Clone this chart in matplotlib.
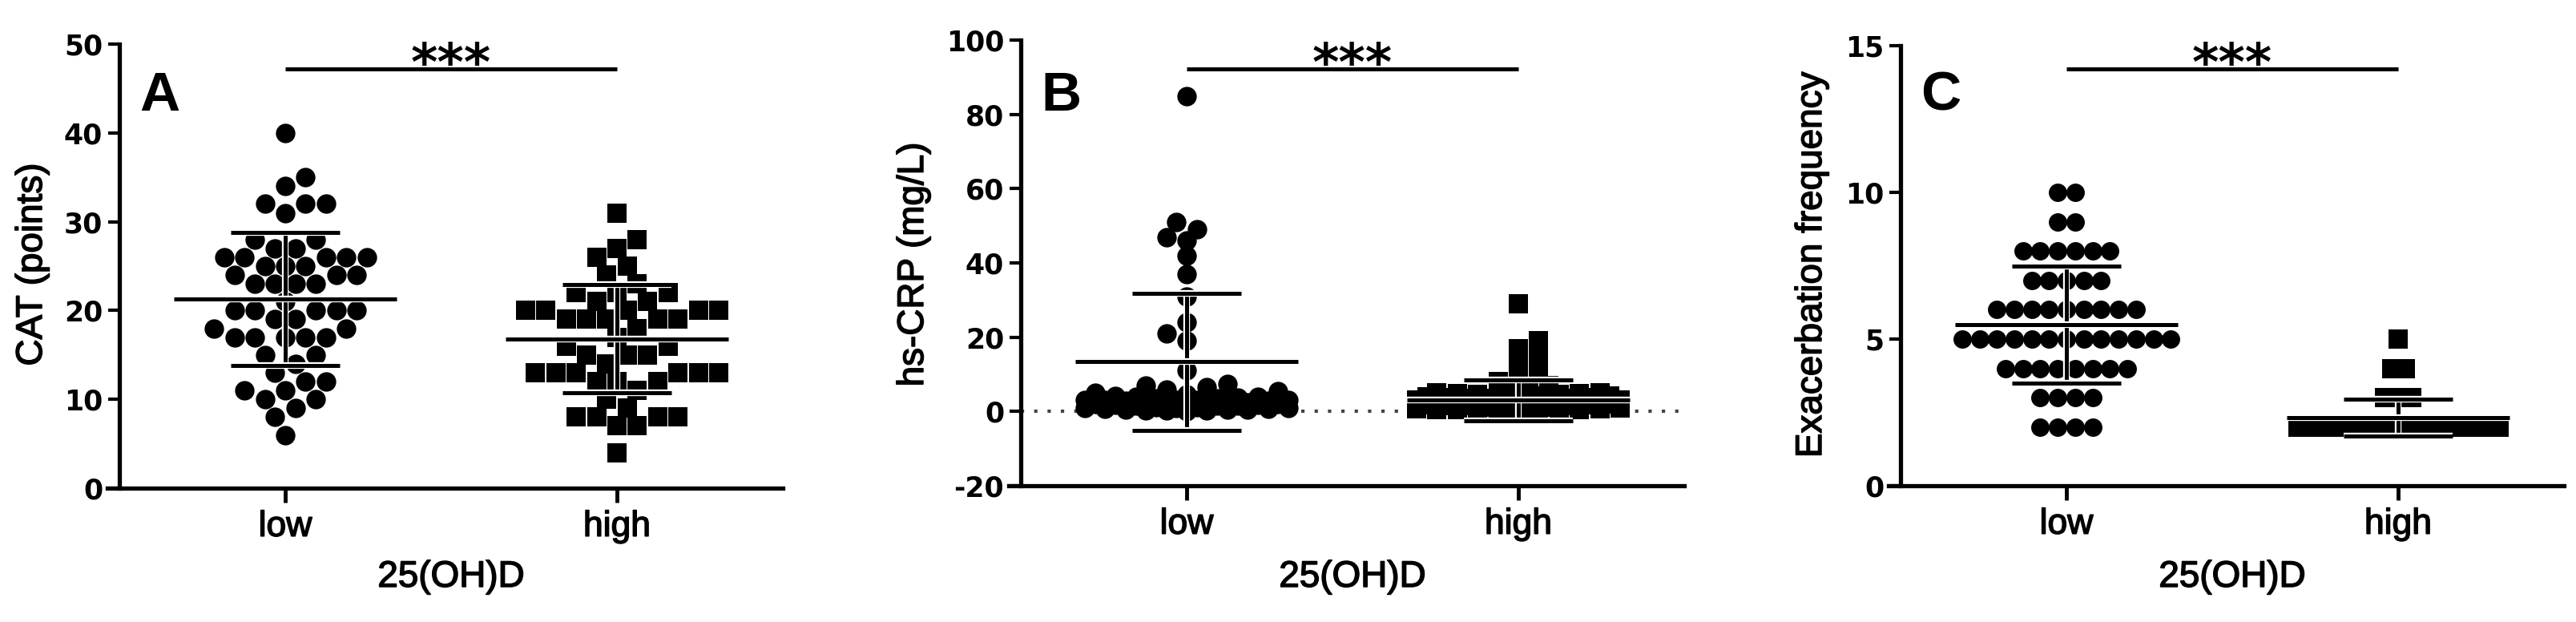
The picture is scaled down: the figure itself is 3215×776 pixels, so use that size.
import numpy as np
import matplotlib
matplotlib.use('Agg')
import matplotlib.pyplot as plt
import matplotlib.patheffects as pe
from matplotlib.transforms import blended_transform_factory

W, H = 3215, 776

groups = ['low', 'high']

# A: CAT score, one value per patient
cat_low = [40, 35, 34, 32, 32, 32, 31, 28, 28, 27, 27, 26, 26, 26, 26, 26, 25, 25, 25,
           24, 24, 24, 23, 23, 23, 23, 21, 20, 20, 20, 20, 20, 19, 19, 18, 18, 17, 17,
           17, 17, 17, 15, 15, 14, 13, 12, 12, 11, 11, 10, 10, 9, 8, 6]
cat_high = [31, 28, 27, 26, 25, 24, 23, 22, 22, 22, 21, 21, 20, 20, 20, 20, 20, 19, 19,
            19, 19, 19, 18, 17, 16, 16, 15, 15, 15, 14, 13, 13, 13, 13, 13, 13, 12, 12,
            12, 11, 10, 9, 8, 8, 8, 8, 7, 7, 4]
cat_mean = [21.3, 16.8]
cat_sd = [7.5, 6.1]

# B: hs-CRP (mg/L)
crp_low = [85, 51, 49, 47, 46, 42, 37, 31, 24, 21, 19, 11, 7.5, 7, 6.5, 6, 5.5, 5, 4.5,
           4.2, 4, 4, 3.8, 3.5, 3.5, 3.2, 3.2, 3, 3, 3, 2.8, 2.8, 2.5, 2.5, 2.5, 2.2,
           2.2, 2, 2, 2, 1.8, 1.8, 1.5, 1.5, 1.5, 1.2, 1.2, 1, 1, 1, 0.8, 0.8, 0.5,
           0.5, 0.5, 0.3, 0.3, 0.2, 0.1]
crp_high = [29, 19, 17, 15, 13, 11, 9, 8, 7, 6, 5.5, 5, 5, 4.8, 4.8, 4.5, 4.5, 4.2, 4.2,
            4, 4, 4, 3.8, 3.8, 3.5, 3.5, 3.5, 3.2, 3.2, 3, 3, 3, 2.8, 2.8, 2.5, 2.5,
            2.5, 2.2, 2.2, 2, 2, 2, 1.8, 1.8, 1.5, 1.5, 1.5, 1.2, 1.2, 1, 1, 1, 0.8,
            0.8, 0.5, 0.5, 0.5, 0.3, 0.3, 0.2, 0.1, 0.1]
crp_mean = [13.4, 3.0]
crp_sd = [18.4, 5.5]

# C: exacerbation frequency, counts per level
exac_levels_low = [2, 3, 4, 5, 6, 7, 8, 9, 10]
exac_counts_low = [4, 4, 8, 13, 9, 5, 6, 2, 2]
exac_levels_high = [2, 3, 4, 5]
exac_counts_high = [24, 3, 2, 1]
exac_mean = [5.5, 2.33]
exac_sd = [2.0, 0.63]

AXW = 828  # axes width in px, xlim -0.5..1.5
PPX = AXW / 2.0
BOLDISH = [pe.withStroke(linewidth=1.1, foreground='black')]


def swarm(vals, ppy, diam, max_px, step):
    vals = np.asarray(vals, float)
    cands = [0.0]
    k = 1
    while k * step <= max_px + 1e-9:
        cands += [k * step, -k * step]
        k += 1
    px, py = [], []
    off = np.zeros(len(vals))
    for n, i in enumerate(np.argsort(vals, kind='stable')):
        y = vals[i] * ppy
        order = cands if n % 2 == 0 else [-c for c in cands]
        best, bestd = 0.0, -1.0
        for c in order:
            d = min((np.hypot(c - a, y - b) for a, b in zip(px, py)), default=np.inf)
            if d >= diam:
                best = c
                break
            if d > bestd:
                bestd, best = d, c
        off[i] = best
        px.append(best)
        py.append(y)
    return off / PPX


def rows(levels, counts, spacing, max_span):
    xs, ys = [], []
    for lv, n in zip(levels, counts):
        s = spacing if n < 2 else min(spacing, max_span / (n - 1))
        for j in range(n):
            xs.append((j - (n - 1) / 2) * s / PPX)
            ys.append(lv)
    return np.array(xs), np.array(ys)


def mean_sd(ax, xc, m, s):
    halo = [pe.Stroke(linewidth=6.0, foreground='white'), pe.Normal()]
    kw = dict(color='black', lw=3.6, solid_capstyle='butt', path_effects=halo, zorder=4)
    ax.plot([xc, xc], [m - s, m + s], **kw)
    for v in (m - s, m + s):
        ax.plot([xc - 0.165, xc + 0.165], [v, v], **kw)
    ax.plot([xc - 0.335, xc + 0.335], [m, m], **kw)


fig = plt.figure(figsize=(W / 100, H / 100), dpi=100)

panels = [
    dict(left=149, top=55, bottom=609, ylim=(0, 50), yticks=range(0, 51, 10),
         ylabel='CAT (points)', letter='A', ylx=40),
    dict(left=1274, top=50, bottom=606, ylim=(-20, 100), yticks=range(-20, 101, 20),
         ylabel='hs-CRP (mg/L)', letter='B', ylx=1140),
    dict(left=2372, top=57, bottom=606, ylim=(0, 15), yticks=[0, 5, 10, 15],
         ylabel='Exacerbation frequency', letter='C', ylx=2261),
]

axes = []
for p in panels:
    ax = fig.add_axes([p['left'] / W, 1 - p['bottom'] / H, AXW / W, (p['bottom'] - p['top']) / H])
    ax.set_xlim(-0.5, 1.5)
    ax.set_ylim(*p['ylim'])
    for s in ['top', 'right']:
        ax.spines[s].set_visible(False)
    for s in ['left', 'bottom']:
        ax.spines[s].set_linewidth(3.8)
    ax.spines['bottom'].set_bounds(-0.537, 1.5)
    ax.set_xticks([0, 1])
    ax.set_xticklabels(groups, fontsize=32, family='Liberation Sans')
    ax.set_yticks(list(p['yticks']))
    ax.set_yticklabels([str(t) for t in p['yticks']], fontsize=25,
                       family='DejaVu Sans', fontweight='bold')
    for lbl in ax.get_xticklabels():
        lbl.set_path_effects(BOLDISH)
    ax.tick_params(axis='y', length=10, width=3, pad=5)
    ax.tick_params(axis='x', length=13, width=3.5, pad=7)
    ppy = (p['bottom'] - p['top']) / (p['ylim'][1] - p['ylim'][0])
    p['ppy'] = ppy
    axes.append(ax)

    fig.text(p['ylx'] / W, 1 - 330 / H, p['ylabel'], rotation=90, ha='center', va='center',
             fontsize=33, family='Liberation Sans', path_effects=BOLDISH)
    fig.text((p['left'] + AXW / 2) / W, 1 - 720 / H, '25(OH)D', ha='center', va='center',
             fontsize=33, family='Liberation Sans', path_effects=BOLDISH)
    fig.text((p['left'] + 50) / W, 1 - 138 / H, p['letter'], ha='center', va='baseline',
             fontsize=50, family='Liberation Sans', fontweight='bold')

    # significance bar
    tr = blended_transform_factory(ax.transData, ax.transAxes)
    yb = (p['bottom'] - 86) / (p['bottom'] - p['top'])
    ax.plot([0, 1], [yb, yb], color='black', lw=3.6, transform=tr, clip_on=False,
            solid_capstyle='butt')
    ya = (p['bottom'] - 100) / (p['bottom'] - p['top'])
    ax.text(0.5, ya, '***', transform=tr, ha='center', va='baseline', fontsize=46,
            family='DejaVu Sans', fontweight='bold')

MS = 17.5

# A
ax = axes[0]
ppy = panels[0]['ppy']
xo = swarm(cat_low, ppy, 23, 127, 12.7)
ax.plot(0 + xo, cat_low, 'o', color='black', ms=MS, mew=0, zorder=2, clip_on=False)
xo = swarm(cat_high, ppy, 24, 138, 12.7)
ax.plot(1 + xo, cat_high, 's', color='black', ms=MS, mew=0, zorder=2, clip_on=False)
for i in range(2):
    mean_sd(ax, i, cat_mean[i], cat_sd[i])

# B
ax = axes[1]
ppy = panels[1]['ppy']
ax.axhline(0, color='#444444', lw=3, linestyle=(0, (1, 3)), zorder=1)
xo = swarm(crp_low, ppy, 17, 136, 12.7)
ax.plot(0 + xo, crp_low, 'o', color='black', ms=MS, mew=0, zorder=2)
xo = swarm(crp_high, ppy, 17, 138, 12.7)
ax.plot(1 + xo, crp_high, 's', color='black', ms=MS, mew=0, zorder=2)
for i in range(2):
    mean_sd(ax, i, crp_mean[i], crp_sd[i])

# C
ax = axes[2]
xs, ys = rows(exac_levels_low, exac_counts_low, 21.7, 262)
ax.plot(0 + xs, ys, 'o', color='black', ms=16.5, mew=0, zorder=2)
xs, ys = rows(exac_levels_high, exac_counts_high, 17, 251)
ax.plot(1 + xs, ys, 's', color='black', ms=MS, mew=0, zorder=2)
for i in range(2):
    mean_sd(ax, i, exac_mean[i], exac_sd[i])

fig.savefig('out.png', dpi=100, facecolor='white')
